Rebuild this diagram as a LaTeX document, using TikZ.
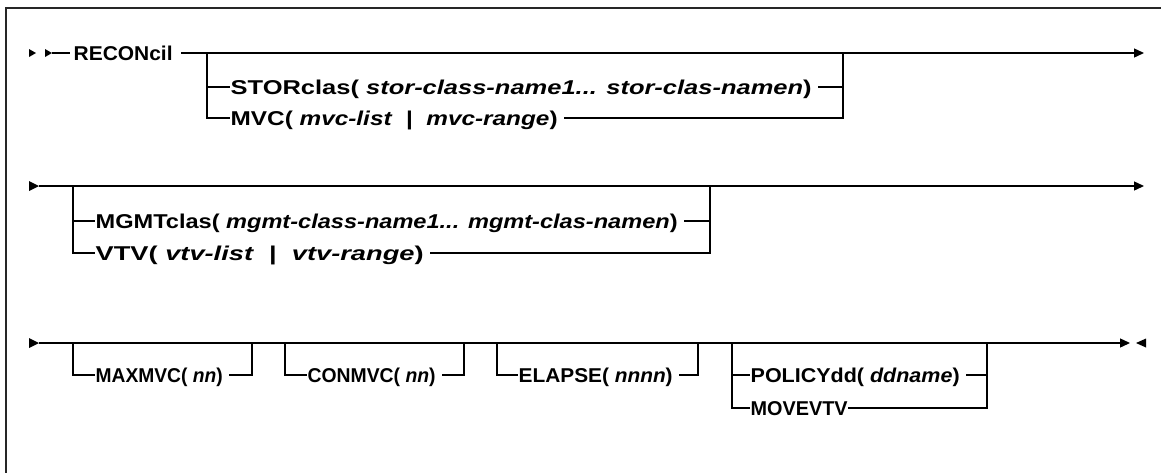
\documentclass[tikz,border=0pt]{standalone}
\usepackage{fontspec}
\setmainfont{Liberation Sans}
\usepackage{graphicx}
\usetikzlibrary{arrows.meta}
\newcommand\fw[2]{\resizebox{#1pt}{\height}{#2}}
\begin{document}
\begin{tikzpicture}[x=1pt,y=-1pt,line width=1.3pt,
  txt/.style={inner sep=0pt,anchor=west,text height=14.3pt,text depth=0pt,font=\fontsize{20}{24}\selectfont\bfseries},
  endarr/.style={-{Triangle[length=10pt,width=9pt]}},
  frame/.style={line width=1.5pt,black!85}]
\useasboundingbox (0,0) rectangle (1161,472);
\draw[frame] (6,476) -- (6,8) -- (1166,8);

% ---------- row 1 ----------
\fill (29,49) -- (36,53) -- (29,57) -- cycle;
\fill (45,49) -- (52,53) -- (45,57) -- cycle;
\coordinate (s1) at (52,53);
\node[txt] (recon) at (73,53) {\fw{99}{RECONcil}};
\coordinate (e1) at (1144,53);
\coordinate (b1l) at (207,53);
\coordinate (b1r) at (843,53);
\node[txt] (stor) at (230,87) {\fw{581}{STORclas( \textit{stor-class-name1... stor-clas-namen})}};
\node[txt] (mvc) at (230,118) {\fw{327}{MVC( \textit{mvc-list}\ \ |\ \ \textit{mvc-range})}};
\draw (s1) -- ([xshift=-3pt]recon.west);
\draw[endarr] ([xshift=8pt]recon.east) -- (e1);
\draw (b1l) |- (mvc.west);
\draw (b1l |- stor.west) -- (stor.west);
\draw ([xshift=6pt]stor.east) -- (b1r |- stor.east);
\draw ([xshift=6pt]mvc.east) -| (b1r);

% ---------- row 2 ----------
\coordinate (s2) at (39,186);
\fill (29,181) -- (s2) -- (29,191) -- cycle;
\coordinate (e2) at (1144,186);
\draw[endarr] (s2) -- (e2);
\coordinate (b2l) at (73,186);
\coordinate (b2r) at (710,186);
\node[txt] (mgmt) at (95,221) {\fw{582}{MGMTclas( \textit{mgmt-class-name1... mgmt-clas-namen})}};
\node[txt] (vtv) at (95,253) {\fw{328}{VTV( \textit{vtv-list}\ \ |\ \ \textit{vtv-range})}};
\draw (b2l) |- (vtv.west);
\draw (b2l |- mgmt.west) -- (mgmt.west);
\draw ([xshift=6pt]mgmt.east) -- (b2r |- mgmt.east);
\draw ([xshift=6pt]vtv.east) -| (b2r);

% ---------- row 3 ----------
\coordinate (s3) at (39,343);
\fill (29,338) -- (s3) -- (29,348) -- cycle;
\coordinate (e3) at (1130,343);
\draw[endarr] (s3) -- (e3);
\fill (1146,338.5) -- (1136,343) -- (1146,347.5) -- cycle;

\coordinate (m1l) at (73,343);
\coordinate (m1r) at (252,343);
\node[txt] (maxmvc) at (95,375) {\fw{127}{MAXMVC( \textit{nn})}};
\draw (m1l) |- (maxmvc.west);
\draw ([xshift=6pt]maxmvc.east) -| (m1r);

\coordinate (c1l) at (285,343);
\coordinate (c1r) at (464,343);
\node[txt] (conmvc) at (307,375) {\fw{128}{CONMVC( \textit{nn})}};
\draw (c1l) |- (conmvc.west);
\draw ([xshift=6pt]conmvc.east) -| (c1r);

\coordinate (el) at (497,343);
\coordinate (er) at (698,343);
\node[txt] (elapse) at (518,375) {\fw{154}{ELAPSE( \textit{nnnn})}};
\draw (el) |- (elapse.west);
\draw ([xshift=6pt]elapse.east) -| (er);

\coordinate (pl) at (732,343);
\coordinate (pr) at (987,343);
\node[txt] (policy) at (750,375) {\fw{209}{POLICYdd( \textit{ddname})}};
\node[txt] (movevtv) at (750,408) {\fw{97}{MOVEVTV}};
\draw (pl) |- (movevtv.west);
\draw (pl |- policy.west) -- (policy.west);
\draw ([xshift=6pt]policy.east) -- (pr |- policy.east);
\draw (movevtv.east) -| (pr);
\end{tikzpicture}
\end{document}
